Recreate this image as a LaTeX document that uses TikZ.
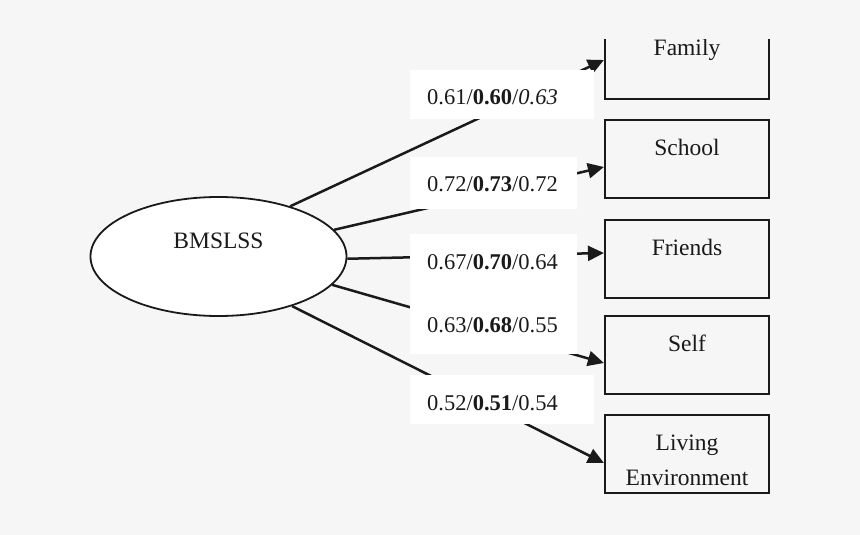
\documentclass[tikz,border=0pt]{standalone}
\usepackage{fontspec}
\setmainfont{Liberation Serif}
\usetikzlibrary{arrows.meta,shapes.geometric}
\definecolor{bg}{HTML}{F6F6F6}
\definecolor{ink}{HTML}{1A1A1A}
\begin{document}
\begin{tikzpicture}[x=1pt,y=-1pt,
  ell/.style={ellipse,draw=ink,line width=1.8pt,fill=white,minimum width=256pt,minimum height=119pt,inner sep=0pt,font=\fontsize{23.5pt}{28pt}\selectfont,text=ink},
  indic/.style={rectangle,draw=ink,line width=2.2pt,fill=bg,minimum width=164pt,minimum height=78pt,inner xsep=0pt,inner ysep=0pt,text height=35pt,text depth=43pt,font=\fontsize{23.5pt}{35pt}\selectfont,text=ink},
  conn/.style={draw=ink,line width=2.5pt,-{Triangle[length=16pt,width=15pt]}},
  coef/.style={fill=white,inner xsep=17pt,inner ysep=0pt,anchor=west,align=left,font=\fontsize{22.5pt}{27pt}\selectfont,text=ink}
]
\useasboundingbox (0,0) rectangle (860,535);
\fill[bg] (0,0) rectangle (860,535);

% latent variable
\node[ell,text height=16pt,text depth=32.4pt] (bm) at (218.5,256.5) {BMSLSS};

% indicator boxes
\begin{scope}
  \clip (0,39.5) rectangle (860,535);
  \node[indic] (fam) at (687,60) {Family};
\end{scope}
\node[indic] (sch) at (687,159) {School};
\node[indic] (fri) at (687,259) {Friends};
\node[indic] (slf) at (687,355) {Self};
\node[indic] (liv) at (687,454) {\parbox[t]{160pt}{\centering Living\\Environment}};

% connectors
\draw[conn] (bm.35) -- (fam.west);
\draw[conn] (bm.13.6) -- ([yshift=-8pt]sch.west);
\draw[conn] (bm.-1.6) -- ([yshift=6pt]fri.west);
\draw[conn] (bm.-14.4) -- ([yshift=-8pt]slf.west);
\draw[conn] (bm.-34) -- ([yshift=-9pt]liv.west);

% coefficient labels
\node[coef,text width=150pt,minimum height=49pt,text height=19pt,text depth=0pt] (l1) at (410,94.5) {0.61/\textbf{0.60}/\textit{0.63}};
\node[coef,text width=133pt,minimum height=52pt,text height=16pt,text depth=0pt] (l2) at (410,183) {0.72/\textbf{0.73}/0.72};
\node[coef,text width=133pt,minimum height=58pt,text height=15pt,text depth=3pt] (l3) at (410,263) {0.67/\textbf{0.70}/0.64};
\node[coef,text width=133pt,minimum height=62pt,text height=18pt,text depth=0pt] (l4) at (410,323) {0.63/\textbf{0.68}/0.55};
\node[coef,text width=150pt,minimum height=49pt,text height=21pt,text depth=0pt] (l5) at (410,399.5) {0.52/\textbf{0.51}/0.54};
\end{tikzpicture}
\end{document}
